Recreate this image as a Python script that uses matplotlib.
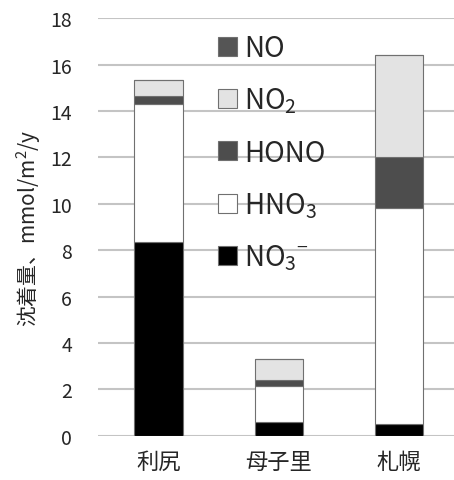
import matplotlib.pyplot as plt
from matplotlib.patches import Patch

plt.rcParams['font.family'] = ['Noto Sans CJK JP', 'DejaVu Sans']
plt.rcParams['mathtext.fontset'] = 'custom'
plt.rcParams['mathtext.rm'] = 'Noto Sans CJK JP'

sites = ['利尻', '母子里', '札幌']
no3_ion = [8.33, 0.6, 0.5]
hno3 = [5.97, 1.53, 9.3]
hono = [0.33, 0.28, 2.21]
no2 = [0.72, 0.9, 4.41]
no = [0.0, 0.0, 0.0]

series = [
    ('NO$_3$$^{-}$', no3_ion, '#000000'),
    ('HNO$_3$', hno3, '#ffffff'),
    ('HONO', hono, '#4d4d4d'),
    ('NO$_2$', no2, '#e3e3e3'),
    ('NO', no, '#555555'),
]

fig = plt.figure(figsize=(4.54, 4.81), dpi=100)
ax = fig.add_axes([0.2165, 0.0921, 0.79, 0.868])

x = range(len(sites))
bottom = [0, 0, 0]
for name, vals, col in series:
    ax.bar(x, vals, 0.404, bottom=bottom, color=col, edgecolor='#707070',
           linewidth=0.8, zorder=3)
    bottom = [b + v for b, v in zip(bottom, vals)]

ax.set_ylim(0, 18)
ax.set_xlim(-0.5, 2.48)
ax.set_yticks(range(0, 19, 2))
ax.set_xticks(list(x))
ax.set_xticklabels(sites)
ax.yaxis.grid(True, color='#c4c4c4', linewidth=1.5, zorder=0)
for s in ax.spines.values():
    s.set_visible(False)
ax.tick_params(axis='y', length=0, pad=19, labelsize=14, labelcolor='#262626')
ax.tick_params(axis='x', length=0, pad=10, labelsize=16, labelcolor='#262626')
ax.set_ylabel('沈着量、mmol/m$^2$/y', fontsize=15, color='#262626', labelpad=5)

handles = [Patch(facecolor=c, edgecolor='#707070', linewidth=0.8, label=n)
           for n, v, c in reversed(series)]
ax.legend(handles=handles, loc='upper left', bbox_to_anchor=(0.455, 0.952),
          bbox_transform=fig.transFigure, frameon=False, fontsize=20,
          handlelength=0.68, handleheight=0.68, handletextpad=0.28,
          labelspacing=0.8, borderaxespad=0, labelcolor='#262626')

plt.savefig('out.png')
